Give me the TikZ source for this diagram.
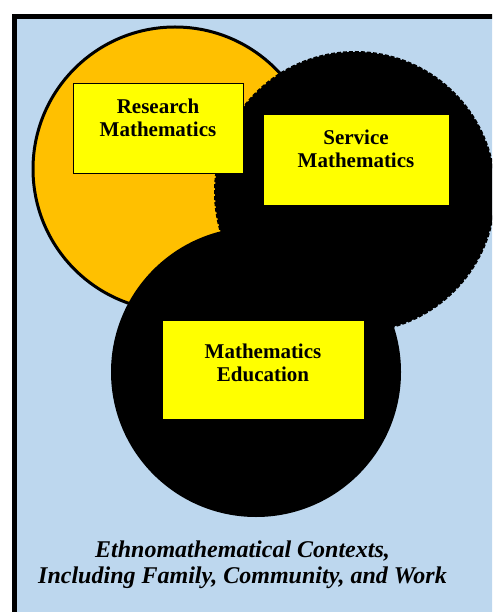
\documentclass[tikz,border=0pt]{standalone}
\usepackage{fontspec}
\setmainfont{Liberation Serif}
\usepackage{xcolor}
\usetikzlibrary{positioning}

\definecolor{ctxblue}{RGB}{189,215,238}
\definecolor{resorange}{RGB}{255,192,0}
\definecolor{boxyellow}{RGB}{255,255,0}

\begin{document}
\begin{tikzpicture}[x=1pt, y=-1pt,
    areabox/.style={draw, rectangle, fill=boxyellow, line width=0.8pt, inner sep=0pt},
    areatext/.style={align=center, inner sep=0pt, anchor=north,
      font=\fontsize{21}{23}\selectfont\bfseries}]
    \useasboundingbox (0,0) rectangle (492,612);
    \clip (0,0) rectangle (492,612);
    % context frame
    \node[draw, rectangle, fill=ctxblue, line width=5pt, anchor=north west,
      minimum width=560pt, minimum height=660pt] (ctx) at (11.5,14) {};
    % circles
    \node[draw, circle, fill=resorange, line width=3pt, minimum size=284pt] (rc) at (175,169) {};
    \node[draw, circle, fill=black, line width=2pt, dash pattern=on 4pt off 2pt,
      minimum size=280pt] (sc) at (355,192) {};
    \node[circle, fill=black, minimum size=290pt] (ec) at (256,372) {};
    % boxes
    \node[areabox, minimum width=170pt, minimum height=90pt] (rbox) at (158,128) {};
    \node[areabox, minimum width=186pt, minimum height=91pt] (sbox) at (356,159.5) {};
    \node[areabox, minimum width=202pt, minimum height=99pt] (ebox) at (263,369.5) {};
    \node[areatext] (rtext) at (158,98.5) {Research\\Mathematics};
    \node[areatext] (stext) at (356,129.5) {Service\\Mathematics};
    \node[areatext] (etext) at (263,343.5) {Mathematics\\Education};
    % context label
    \node[align=center, inner sep=0pt,
      font=\fontsize{24}{26}\selectfont\bfseries\itshape] (ctxtext) at (242.5,565)
      {Ethnomathematical Contexts,\\Including Family, Community, and Work};
\end{tikzpicture}
\end{document}
